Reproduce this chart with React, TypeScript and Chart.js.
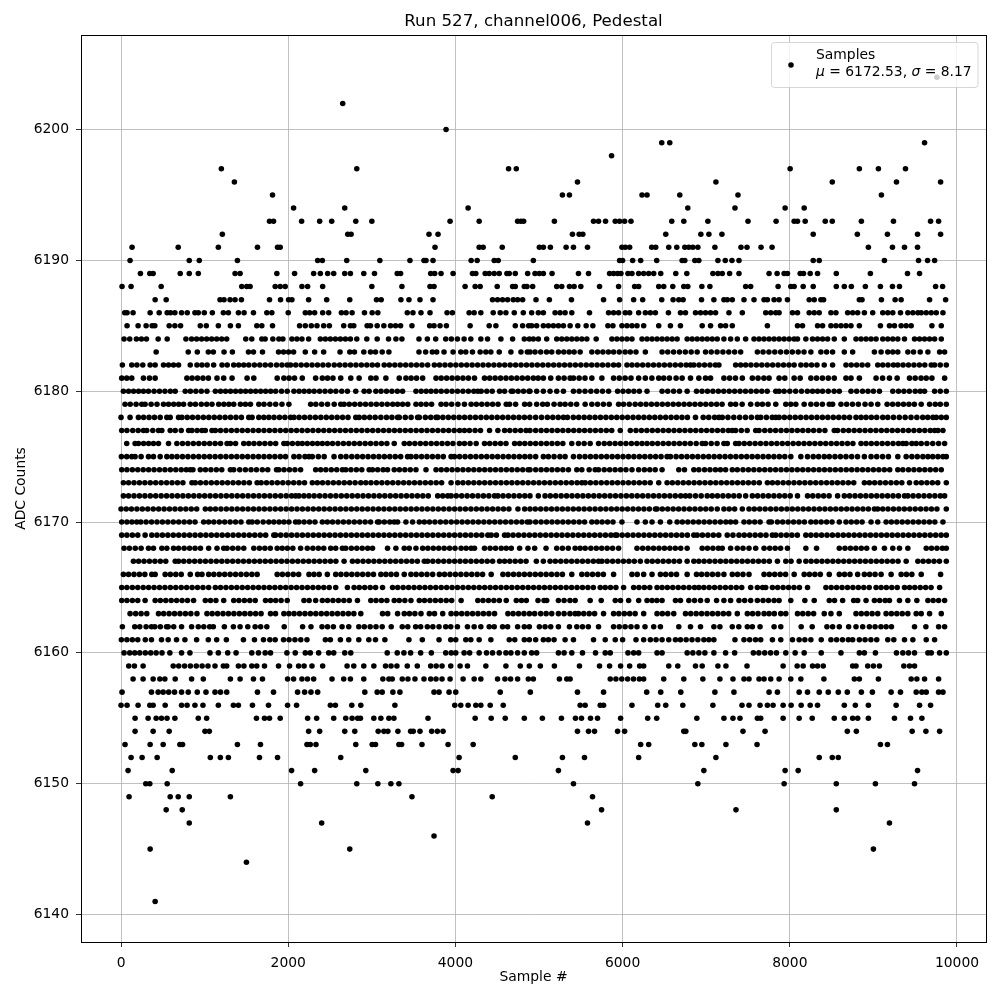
import React, { useEffect, useRef } from "react";
import { Chart, registerables } from "chart.js";

Chart.register(...registerables);

const titleText = "Run 527, channel006, Pedestal";
const xAxisTitle = "Sample #";
const yAxisTitle = "ADC Counts";
const xTickValues = [0, 2000, 4000, 6000, 8000, 10000];
const yTickValues = [6140, 6150, 6160, 6170, 6180, 6190, 6200];

const r6204 = [9760];
const r6202 = [2652];
const r6200 = [3888];
const r6199 = [6468, 6564, 9612];
const r6198 = [5868];
const r6197 = [1200, 2820, 4636, 4728, 8004, 8832, 9060, 9384];
const r6196 = [1356, 5460, 7116, 8508, 9276, 9804];
const r6195 = [1812, 5280, 5364, 6232, 6292, 6684, 7380, 9096];
const r6194 = [2064, 2676, 4152, 6780, 7344, 7944, 8172];
const r6193 = [1776, 1824, 2160, 2376, 2520, 2808, 3000, 3936, 4284, 4744, 4784, 4816, 5184, 5652, 5712, 5796, 5912, 5964, 6024, 6100, 6588, 6732, 7020, 7500, 7836, 8052, 8092, 8184, 8424, 8508, 8856, 9240, 9684, 9780];
const r6192 = [1212, 2712, 2752, 3684, 3792, 5400, 5480, 5524, 6516, 6936, 7032, 7188, 8280, 8808, 9168, 9528, 9804];
const r6191 = [132, 684, 1164, 1632, 1872, 1904, 3756, 4284, 4332, 4560, 5004, 5052, 5136, 5324, 5412, 5580, 5992, 6032, 6084, 6348, 6396, 6552, 6648, 6744, 6792, 6840, 6900, 7104, 7416, 7488, 7656, 7788, 8940, 9228, 9372, 9528];
const r6190 = [108, 816, 936, 1392, 2352, 2408, 2700, 3096, 3456, 3624, 3648, 3732, 4188, 4260, 4464, 4512, 4932, 5964, 6000, 6120, 6216, 6408, 6712, 6744, 6864, 6912, 7140, 7228, 7308, 7392, 8280, 8352, 9132, 9540, 9648, 9732];
const r6189 = [232, 344, 384, 708, 816, 924, 1364, 1424, 1864, 2076, 2304, 2384, 2472, 2544, 2676, 2744, 2904, 3032, 3304, 3344, 3704, 3752, 3828, 3972, 4204, 4244, 4356, 4404, 4464, 4524, 4616, 4644, 4716, 4864, 4952, 5004, 5052, 5156, 5472, 5592, 5844, 5892, 5940, 5980, 6064, 6112, 6192, 6252, 6312, 6372, 6456, 6636, 6768, 7080, 7140, 7192, 7280, 7392, 7752, 7848, 7932, 7972, 8124, 8164, 8244, 8332, 8556, 8964, 9408, 9552];
const r6188 = [12, 120, 480, 1444, 1504, 1544, 1844, 1904, 1964, 2164, 2232, 2412, 3000, 3360, 3696, 3744, 4116, 4236, 4296, 4500, 4684, 4716, 4824, 4856, 4924, 5212, 5272, 5364, 5420, 5500, 5724, 5952, 6144, 6192, 6432, 6492, 6600, 6732, 6780, 6948, 7044, 7472, 7532, 7860, 8012, 8052, 8160, 8280, 8556, 8652, 8736, 8904, 9084, 9228, 9312, 9744, 9828];
const r6187 = [408, 540, 1184, 1232, 1304, 1364, 1440, 1776, 1908, 2004, 2044, 2244, 2460, 2736, 3056, 3112, 3348, 3444, 3576, 3732, 4444, 4504, 4564, 4624, 4692, 4744, 4804, 4964, 5124, 5388, 5772, 5964, 6132, 6240, 6468, 6604, 6672, 6724, 6944, 7092, 7212, 7252, 7312, 7452, 7572, 7692, 7732, 7812, 7872, 7972, 8232, 8292, 8372, 8404, 8832, 8864, 9096, 9260, 9332, 9672, 9864];
const r6186 = [44, 72, 144, 348, 456, 552, 592, 644, 724, 792, 884, 924, 996, 1092, 1224, 1284, 1404, 1472, 1584, 1744, 1804, 2000, 2204, 2256, 2316, 2412, 2484, 2636, 2692, 2764, 2912, 3004, 3072, 3424, 3492, 3588, 3696, 3900, 3964, 4164, 4224, 4304, 4452, 4536, 4604, 4704, 4812, 4912, 4992, 5052, 5192, 5252, 5312, 5392, 5604, 5832, 5892, 5952, 6032, 6084, 6192, 6272, 6332, 6392, 6548, 6692, 6752, 6872, 6932, 6992, 7052, 7112, 7272, 7432, 7712, 7772, 7832, 7872, 8032, 8092, 8232, 8292, 8352, 8492, 8552, 8692, 8752, 8812, 8892, 8992, 9112, 9172, 9232, 9324, 9412, 9472, 9532, 9572, 9632, 9692, 9752, 9832];
const r6185 = [72, 204, 300, 372, 404, 576, 644, 712, 948, 1020, 1164, 1308, 1404, 1624, 1684, 1812, 2136, 2204, 2276, 2344, 2424, 2492, 2664, 2744, 2784, 2944, 2984, 3064, 3144, 3224, 3284, 3344, 3480, 3692, 3744, 3816, 3892, 4176, 4404, 4484, 4716, 4804, 4876, 4912, 4972, 5052, 5112, 5172, 5232, 5292, 5372, 5464, 5564, 5644, 5824, 5884, 5992, 6052, 6112, 6172, 6252, 6432, 6572, 6692, 6952, 7052, 7172, 7232, 7312, 7732, 8092, 8152, 8332, 8392, 8492, 8552, 8612, 8672, 8732, 8832, 9084, 9192, 9252, 9332, 9392, 9452, 9700, 9812];
const r6184 = [36, 104, 184, 244, 304, 444, 552, 776, 844, 904, 964, 1024, 1084, 1144, 1204, 1264, 1492, 1564, 1684, 1724, 1816, 1888, 1936, 2044, 2104, 2164, 2244, 2384, 2444, 2504, 2564, 2624, 2684, 2744, 2820, 2940, 3064, 3200, 3288, 3360, 3564, 3664, 3764, 3884, 3952, 4024, 4104, 4184, 4304, 4384, 4544, 4684, 4824, 4884, 4932, 4992, 5092, 5212, 5272, 5332, 5392, 5452, 5512, 5572, 5684, 5872, 5932, 5992, 6052, 6112, 6232, 6292, 6352, 6412, 6472, 6532, 6592, 6652, 6772, 6832, 6892, 6952, 7012, 7072, 7132, 7212, 7292, 7372, 7472, 7572, 7632, 7692, 7752, 7812, 7872, 7932, 7992, 8052, 8092, 8192, 8272, 8332, 8392, 8452, 8532, 8652, 8792, 8852, 8912, 8972, 9032, 9112, 9172, 9232, 9292, 9372, 9492, 9552, 9612, 9672, 9732, 9812];
const r6183 = [420, 804, 912, 1044, 1104, 1232, 1332, 1524, 1584, 1692, 1884, 1944, 2004, 2064, 2204, 2316, 2424, 2620, 2736, 2792, 2904, 2984, 3044, 3124, 3204, 3564, 3644, 3724, 3776, 3864, 3972, 4064, 4124, 4204, 4296, 4364, 4424, 4524, 4664, 4784, 4860, 4892, 4952, 5020, 5090, 5152, 5232, 5296, 5360, 5420, 5492, 5632, 5700, 5764, 5830, 5892, 5960, 6030, 6092, 6160, 6272, 6472, 6540, 6610, 6680, 6750, 6820, 6892, 6992, 7060, 7130, 7200, 7270, 7340, 7412, 7612, 7680, 7750, 7820, 7890, 7960, 8030, 8100, 8170, 8252, 8372, 8440, 8512, 8652, 8752, 9012, 9092, 9172, 9232, 9292, 9412, 9480, 9560, 9652, 9792, 9852];
const r6182 = [16, 128, 190, 260, 348, 408, 508, 568, 628, 688, 828, 908, 968, 1030, 1108, 1208, 1270, 1348, 1408, 1468, 1528, 1595, 1660, 1725, 1790, 1860, 1925, 1988, 2028, 2090, 2155, 2220, 2285, 2350, 2415, 2480, 2550, 2615, 2680, 2745, 2810, 2875, 2940, 3005, 3068, 3148, 3210, 3275, 3340, 3405, 3470, 3535, 3600, 3668, 3748, 3810, 3875, 3940, 4005, 4070, 4135, 4200, 4265, 4330, 4395, 4460, 4525, 4590, 4655, 4720, 4785, 4850, 4915, 4980, 5045, 5110, 5175, 5240, 5305, 5370, 5435, 5500, 5565, 5630, 5695, 5760, 5825, 5892, 5952, 6052, 6112, 6175, 6240, 6305, 6370, 6435, 6500, 6565, 6630, 6695, 6760, 6812, 6852, 6915, 6980, 7045, 7110, 7152, 7352, 7412, 7472, 7535, 7600, 7665, 7730, 7795, 7860, 7925, 7990, 8052, 8132, 8195, 8260, 8325, 8412, 8512, 8672, 8735, 8800, 8865, 8932, 9052, 9112, 9175, 9240, 9292, 9355, 9420, 9485, 9550, 9615, 9692, 9732, 9800, 9872];
const r6181 = [8, 68, 128, 268, 340, 408, 788, 850, 915, 980, 1045, 1148, 1228, 1328, 1508, 1588, 1868, 1948, 2010, 2075, 2168, 2328, 2408, 2470, 2535, 2628, 2748, 2848, 2988, 3050, 3168, 3328, 3408, 3470, 3535, 3608, 3768, 3830, 3895, 3960, 4025, 4090, 4155, 4228, 4348, 4410, 4475, 4540, 4605, 4670, 4735, 4800, 4865, 4932, 4990, 5052, 5140, 5232, 5300, 5372, 5412, 5480, 5550, 5632, 5752, 5892, 5960, 6030, 6100, 6192, 6272, 6350, 6432, 6492, 6560, 6640, 6712, 6812, 6912, 6992, 7052, 7212, 7280, 7350, 7432, 7552, 7620, 7690, 7752, 7872, 7940, 8052, 8124, 8252, 8320, 8390, 8460, 8532, 8672, 8732, 8832, 9032, 9110, 9192, 9284, 9432, 9500, 9570, 9632, 9700, 9852];
const r6180 = [28, 90, 150, 210, 268, 328, 395, 460, 525, 590, 648, 768, 830, 895, 960, 1028, 1128, 1190, 1250, 1310, 1370, 1430, 1490, 1550, 1610, 1670, 1730, 1790, 1850, 1920, 1988, 2068, 2130, 2190, 2250, 2310, 2375, 2440, 2505, 2570, 2640, 2708, 2808, 2908, 2968, 3048, 3110, 3175, 3240, 3305, 3368, 3528, 3590, 3650, 3708, 3768, 3830, 3895, 3960, 4025, 4090, 4155, 4220, 4268, 4308, 4375, 4440, 4528, 4588, 4668, 4688, 4750, 4815, 4880, 4892, 4972, 5052, 5132, 5212, 5292, 5412, 5480, 5550, 5620, 5690, 5760, 5832, 5940, 6005, 6070, 6135, 6200, 6292, 6472, 6540, 6610, 6680, 6772, 6884, 6950, 7015, 7080, 7145, 7210, 7275, 7340, 7405, 7470, 7535, 7600, 7665, 7730, 7832, 7872, 7932, 8000, 8070, 8140, 8210, 8272, 8332, 8392, 8460, 8530, 8592, 8732, 8800, 8870, 8935, 9000, 9072, 9232, 9300, 9365, 9430, 9500, 9560, 9612, 9732, 9800, 9872];
const r6179 = [48, 110, 180, 248, 288, 360, 430, 508, 568, 630, 690, 748, 828, 890, 960, 1025, 1088, 1168, 1230, 1290, 1348, 1428, 1488, 1548, 1648, 1710, 1780, 1850, 1925, 2008, 2268, 2330, 2400, 2470, 2550, 2628, 2668, 2730, 2795, 2860, 2925, 2990, 3055, 3120, 3185, 3250, 3308, 3368, 3430, 3528, 3588, 3650, 3715, 3828, 3888, 3955, 4030, 4108, 4188, 4250, 4315, 4380, 4445, 4510, 4608, 4648, 4720, 4828, 4888, 4972, 5044, 5100, 5180, 5252, 5312, 5380, 5450, 5552, 5632, 5700, 5770, 5840, 5952, 6012, 6080, 6150, 6215, 6280, 6345, 6410, 6475, 6540, 6605, 6670, 6735, 6800, 6865, 6930, 6995, 7060, 7125, 7190, 7292, 7352, 7430, 7532, 7612, 7672, 7740, 7832, 7952, 8012, 8072, 8172, 8252, 8320, 8390, 8472, 8512, 8612, 8680, 8750, 8820, 8900, 8972, 9052, 9164, 9230, 9295, 9360, 9425, 9490, 9572, 9672, 9740, 9800, 9872];
const r6178 = [0, 108, 208, 270, 335, 400, 468, 548, 588, 688, 728, 792, 855, 920, 985, 1050, 1115, 1180, 1245, 1310, 1375, 1440, 1528, 1568, 1648, 1708, 1768, 1830, 1895, 1960, 2028, 2068, 2130, 2195, 2260, 2325, 2390, 2455, 2520, 2585, 2650, 2715, 2808, 2848, 2910, 2975, 3040, 3108, 3175, 3240, 3308, 3328, 3400, 3470, 3548, 3568, 3640, 3705, 3768, 3788, 3850, 3915, 3980, 4045, 4110, 4175, 4240, 4305, 4370, 4435, 4500, 4565, 4630, 4695, 4760, 4825, 4890, 4960, 5030, 5100, 5165, 5230, 5292, 5340, 5410, 5475, 5540, 5605, 5670, 5735, 5800, 5865, 5930, 5995, 6060, 6125, 6190, 6255, 6320, 6385, 6450, 6515, 6580, 6645, 6710, 6775, 6872, 6964, 7030, 7100, 7152, 7192, 7260, 7330, 7400, 7470, 7540, 7612, 7652, 7720, 7790, 7832, 7872, 7935, 8000, 8065, 8130, 8195, 8260, 8325, 8390, 8455, 8520, 8585, 8650, 8715, 8792, 8852, 8912, 8975, 9040, 9112, 9172, 9240, 9310, 9380, 9450, 9520, 9590, 9650, 9712, 9752, 9812, 9872];
const r6177 = [8, 70, 140, 205, 268, 308, 380, 448, 488, 588, 648, 720, 808, 848, 910, 968, 1008, 1088, 1128, 1190, 1255, 1320, 1385, 1450, 1515, 1580, 1645, 1710, 1775, 1840, 1905, 1970, 2035, 2100, 2165, 2230, 2295, 2360, 2425, 2490, 2555, 2620, 2685, 2750, 2815, 2880, 2945, 3010, 3075, 3140, 3205, 3270, 3335, 3400, 3465, 3530, 3595, 3660, 3725, 3790, 3855, 3920, 3985, 4050, 4108, 4168, 4235, 4300, 4408, 4508, 4588, 4650, 4715, 4780, 4845, 4892, 4960, 5025, 5090, 5155, 5220, 5285, 5350, 5415, 5480, 5545, 5610, 5675, 5740, 5805, 5870, 5972, 6092, 6160, 6225, 6290, 6355, 6420, 6485, 6550, 6615, 6680, 6745, 6810, 6875, 6940, 7005, 7070, 7135, 7200, 7265, 7312, 7352, 7420, 7490, 7592, 7632, 7700, 7765, 7830, 7895, 7960, 8025, 8090, 8155, 8220, 8285, 8352, 8420, 8532, 8572, 8640, 8705, 8770, 8835, 8900, 8965, 9030, 9095, 9160, 9225, 9290, 9355, 9420, 9485, 9550, 9615, 9680, 9732, 9772, 9832];
const r6176 = [68, 168, 208, 270, 330, 388, 448, 568, 668, 735, 800, 865, 930, 995, 1060, 1125, 1190, 1268, 1308, 1370, 1468, 1528, 1590, 1655, 1720, 1785, 1850, 1948, 1988, 2050, 2115, 2168, 2228, 2290, 2350, 2408, 2468, 2530, 2595, 2660, 2725, 2790, 2855, 2920, 2985, 3050, 3115, 3180, 3268, 3388, 3450, 3515, 3580, 3645, 3710, 3775, 3840, 3905, 3970, 4048, 4108, 4175, 4248, 4348, 4410, 4475, 4540, 4605, 4708, 4768, 4830, 4895, 4960, 5025, 5090, 5155, 5220, 5285, 5392, 5472, 5540, 5612, 5712, 5780, 5845, 5910, 5975, 6040, 6105, 6170, 6232, 6292, 6355, 6420, 6485, 6550, 6615, 6680, 6745, 6810, 6880, 6952, 6992, 7060, 7130, 7212, 7252, 7352, 7392, 7455, 7520, 7585, 7650, 7715, 7780, 7845, 7910, 7975, 8040, 8105, 8170, 8235, 8300, 8365, 8430, 8495, 8560, 8625, 8690, 8755, 8852, 8912, 8975, 9040, 9105, 9170, 9235, 9300, 9352, 9392, 9460, 9512, 9572, 9640, 9710, 9780, 9852];
const r6175 = [4, 68, 128, 168, 240, 328, 388, 468, 548, 608, 670, 735, 800, 865, 930, 995, 1060, 1125, 1190, 1255, 1320, 1385, 1450, 1515, 1580, 1645, 1710, 1775, 1840, 1905, 1968, 2068, 2130, 2200, 2248, 2288, 2360, 2430, 2548, 2628, 2692, 2760, 2825, 2890, 2955, 3020, 3085, 3150, 3215, 3280, 3345, 3428, 3468, 3530, 3595, 3660, 3725, 3790, 3855, 3948, 3988, 4050, 4115, 4180, 4245, 4310, 4375, 4440, 4505, 4570, 4635, 4700, 4765, 4830, 4892, 4960, 5052, 5112, 5180, 5250, 5312, 5412, 5484, 5550, 5615, 5680, 5745, 5810, 5875, 5940, 6005, 6070, 6135, 6200, 6265, 6330, 6395, 6460, 6532, 6572, 6640, 6705, 6770, 6835, 6900, 6965, 7030, 7095, 7160, 7225, 7290, 7355, 7420, 7485, 7550, 7615, 7680, 7745, 7810, 7875, 7940, 8012, 8132, 8212, 8280, 8345, 8412, 8472, 8540, 8605, 8672, 8740, 8810, 8892, 8972, 9040, 9110, 9180, 9292, 9392, 9460, 9525, 9592, 9652, 9710, 9772, 9832, 9872];
const r6174 = [8, 70, 135, 200, 265, 330, 395, 460, 525, 590, 655, 720, 780, 828, 860, 948, 1010, 1075, 1140, 1205, 1308, 1348, 1420, 1488, 1555, 1620, 1690, 1755, 1860, 1888, 1950, 2015, 2080, 2148, 2328, 2388, 2450, 2515, 2580, 2648, 2688, 2750, 2815, 2880, 2968, 3008, 3070, 3135, 3188, 3268, 3330, 3395, 3460, 3528, 3648, 3768, 3830, 3895, 3960, 4025, 4090, 4155, 4220, 4285, 4350, 4415, 4480, 4545, 4610, 4675, 4740, 4805, 4870, 4892, 4960, 5025, 5090, 5155, 5220, 5285, 5352, 5452, 5512, 5600, 5672, 5712, 5780, 5845, 5910, 5975, 6040, 6112, 6192, 6260, 6325, 6390, 6472, 6672, 6740, 6852, 6912, 6980, 7045, 7110, 7170, 7232, 7312, 7372, 7440, 7505, 7570, 7635, 7700, 7765, 7830, 7895, 7960, 8025, 8090, 8155, 8220, 8285, 8350, 8415, 8480, 8545, 8610, 8675, 8740, 8805, 8870, 8935, 9000, 9065, 9130, 9195, 9292, 9352, 9420, 9485, 9550, 9615, 9680, 9745, 9812];
const r6173 = [28, 90, 155, 220, 285, 350, 415, 480, 545, 610, 675, 740, 848, 888, 950, 1015, 1080, 1145, 1210, 1275, 1340, 1405, 1470, 1535, 1628, 1676, 1740, 1805, 1870, 1935, 2000, 2065, 2130, 2195, 2288, 2348, 2410, 2475, 2540, 2605, 2670, 2735, 2800, 2868, 2928, 2990, 3055, 3120, 3185, 3250, 3315, 3380, 3445, 3510, 3575, 3640, 3705, 3770, 3835, 3948, 4028, 4090, 4155, 4220, 4285, 4350, 4415, 4480, 4545, 4610, 4675, 4740, 4805, 4870, 4935, 5000, 5065, 5130, 5195, 5260, 5325, 5390, 5455, 5512, 5552, 5615, 5680, 5745, 5810, 5875, 5940, 6005, 6070, 6135, 6200, 6265, 6330, 6432, 6532, 6595, 6660, 6725, 6790, 6855, 6920, 6985, 7050, 7115, 7180, 7245, 7310, 7375, 7440, 7505, 7570, 7635, 7732, 7792, 7855, 7920, 7985, 8050, 8115, 8180, 8245, 8310, 8375, 8440, 8505, 8570, 8635, 8700, 8765, 8892, 8952, 9015, 9080, 9145, 9210, 9275, 9340, 9432, 9512, 9575, 9640, 9705, 9770, 9872];
const r6172 = [28, 90, 155, 220, 285, 350, 415, 480, 545, 610, 675, 740, 805, 870, 935, 1000, 1065, 1130, 1195, 1260, 1325, 1390, 1455, 1520, 1585, 1650, 1715, 1780, 1845, 1910, 1975, 2040, 2088, 2128, 2188, 2248, 2310, 2375, 2440, 2505, 2570, 2635, 2700, 2765, 2830, 2895, 2960, 3025, 3090, 3155, 3220, 3285, 3350, 3415, 3480, 3545, 3610, 3675, 3788, 3848, 3908, 3948, 4010, 4075, 4140, 4205, 4270, 4335, 4400, 4468, 4508, 4570, 4635, 4700, 4765, 4830, 4892, 4992, 5072, 5135, 5200, 5265, 5330, 5395, 5460, 5525, 5590, 5655, 5720, 5785, 5850, 5915, 5980, 6045, 6110, 6175, 6240, 6305, 6370, 6435, 6500, 6565, 6630, 6695, 6752, 6804, 6872, 6940, 7012, 7072, 7135, 7200, 7265, 7330, 7395, 7472, 7552, 7615, 7680, 7745, 7810, 7875, 7940, 8005, 8092, 8212, 8275, 8340, 8405, 8470, 8572, 8652, 8715, 8780, 8845, 8910, 8975, 9040, 9105, 9170, 9235, 9300, 9372, 9412, 9475, 9540, 9605, 9670, 9735, 9800, 9852];
const r6171 = [0, 62, 125, 190, 255, 320, 385, 450, 515, 580, 645, 710, 775, 840, 905, 1008, 1068, 1130, 1195, 1260, 1325, 1390, 1455, 1520, 1585, 1650, 1715, 1780, 1845, 1910, 1975, 2040, 2105, 2170, 2235, 2300, 2365, 2430, 2495, 2560, 2625, 2690, 2755, 2820, 2885, 2950, 3015, 3080, 3145, 3210, 3275, 3340, 3405, 3470, 3535, 3600, 3665, 3730, 3795, 3860, 3925, 3990, 4055, 4120, 4185, 4250, 4315, 4380, 4445, 4510, 4575, 4640, 4748, 4828, 4892, 4955, 5020, 5085, 5150, 5215, 5280, 5345, 5410, 5475, 5540, 5605, 5670, 5735, 5800, 5865, 5930, 5995, 6060, 6125, 6190, 6255, 6320, 6392, 6412, 6475, 6540, 6605, 6670, 6735, 6800, 6865, 6930, 6995, 7060, 7132, 7212, 7275, 7340, 7432, 7512, 7575, 7640, 7705, 7770, 7835, 7900, 7965, 8030, 8095, 8160, 8225, 8290, 8355, 8420, 8485, 8550, 8615, 8680, 8745, 8810, 8875, 8940, 9012, 9052, 9112, 9175, 9240, 9305, 9370, 9435, 9500, 9565, 9630, 9695, 9760, 9872];
const r6170 = [8, 70, 130, 188, 236, 300, 365, 430, 495, 560, 625, 690, 755, 820, 885, 988, 1048, 1110, 1175, 1240, 1305, 1370, 1435, 1528, 1568, 1630, 1700, 1768, 1828, 1890, 1948, 2008, 2088, 2128, 2190, 2255, 2320, 2408, 2468, 2530, 2595, 2660, 2725, 2790, 2855, 2920, 2985, 3068, 3088, 3150, 3215, 3268, 3308, 3408, 3488, 3568, 3628, 3690, 3755, 3820, 3885, 3950, 4015, 4080, 4145, 4210, 4275, 4340, 4405, 4470, 4535, 4600, 4665, 4730, 4795, 4860, 4892, 4960, 5025, 5090, 5155, 5220, 5285, 5350, 5415, 5480, 5545, 5632, 5692, 5755, 5820, 5885, 5992, 6172, 6272, 6352, 6452, 6564, 6652, 6715, 6780, 6845, 6910, 6975, 7040, 7105, 7170, 7235, 7292, 7352, 7452, 7515, 7580, 7645, 7752, 7780, 7852, 7915, 7980, 8045, 8110, 8175, 8252, 8312, 8375, 8440, 8505, 8592, 8672, 8735, 8800, 8865, 8972, 9052, 9152, 9215, 9280, 9345, 9410, 9475, 9540, 9605, 9670, 9735, 9832];
const r6169 = [8, 70, 135, 200, 288, 368, 430, 495, 560, 625, 690, 755, 820, 885, 950, 1015, 1080, 1145, 1210, 1275, 1340, 1405, 1470, 1535, 1600, 1665, 1730, 1828, 1848, 1910, 1975, 2040, 2105, 2170, 2235, 2300, 2365, 2430, 2495, 2560, 2625, 2690, 2755, 2820, 2885, 2950, 3015, 3080, 3145, 3210, 3275, 3340, 3405, 3470, 3535, 3600, 3665, 3730, 3795, 3860, 3925, 3990, 4055, 4120, 4185, 4250, 4315, 4388, 4428, 4490, 4588, 4628, 4690, 4755, 4820, 4885, 4950, 5015, 5080, 5145, 5210, 5275, 5340, 5405, 5470, 5535, 5600, 5665, 5730, 5795, 5860, 5912, 5932, 5995, 6060, 6125, 6190, 6255, 6320, 6385, 6450, 6515, 6580, 6645, 6710, 6775, 6852, 6892, 6955, 7020, 7085, 7150, 7252, 7320, 7392, 7455, 7520, 7585, 7650, 7715, 7792, 7832, 7895, 7960, 8025, 8090, 8192, 8252, 8315, 8380, 8445, 8510, 8575, 8640, 8705, 8770, 8835, 8900, 8965, 9030, 9095, 9160, 9225, 9290, 9355, 9420, 9485, 9550, 9615, 9680, 9745, 9810, 9872];
const r6168 = [36, 100, 170, 240, 328, 388, 488, 548, 628, 688, 755, 820, 885, 950, 1048, 1148, 1228, 1268, 1335, 1400, 1468, 1588, 1655, 1720, 1785, 1868, 1928, 1990, 2055, 2148, 2228, 2295, 2360, 2425, 2508, 2568, 2648, 2688, 2755, 2820, 2885, 2950, 3008, 3188, 3288, 3388, 3448, 3528, 3608, 3670, 3735, 3800, 3865, 3930, 3995, 4068, 4128, 4188, 4228, 4348, 4415, 4480, 4548, 4608, 4668, 4768, 4868, 4948, 5084, 5212, 5280, 5350, 5432, 5492, 5552, 5620, 5685, 5750, 5815, 5880, 5952, 6172, 6240, 6305, 6370, 6435, 6500, 6565, 6630, 6695, 6772, 6952, 7015, 7080, 7145, 7192, 7292, 7372, 7440, 7512, 7592, 7692, 7760, 7825, 7890, 7972, 8192, 8320, 8592, 8660, 8725, 8790, 8855, 8920, 9012, 9132, 9232, 9312, 9412, 9632, 9695, 9760, 9825, 9872];
const r6167 = [148, 210, 275, 340, 405, 470, 535, 648, 688, 750, 815, 880, 945, 1010, 1075, 1140, 1205, 1270, 1335, 1400, 1465, 1530, 1595, 1660, 1725, 1790, 1855, 1920, 1985, 2050, 2115, 2180, 2245, 2310, 2375, 2440, 2505, 2570, 2668, 2768, 2830, 2895, 2960, 3025, 3090, 3155, 3220, 3285, 3350, 3415, 3480, 3545, 3628, 3668, 3730, 3795, 3860, 3925, 3990, 4055, 4120, 4185, 4250, 4315, 4380, 4445, 4528, 4588, 4650, 4715, 4780, 4845, 4968, 5052, 5132, 5195, 5260, 5325, 5390, 5455, 5520, 5585, 5650, 5712, 5752, 5815, 5880, 5945, 6010, 6075, 6140, 6212, 6292, 6355, 6420, 6485, 6550, 6615, 6680, 6772, 6852, 6912, 6975, 7040, 7105, 7170, 7235, 7300, 7365, 7430, 7495, 7560, 7625, 7690, 7755, 7852, 7952, 8015, 8112, 8192, 8255, 8320, 8385, 8450, 8515, 8580, 8645, 8710, 8775, 8840, 8905, 8970, 9035, 9100, 9165, 9230, 9295, 9392, 9532, 9595, 9660, 9725, 9790, 9872];
const r6166 = [28, 90, 155, 220, 285, 368, 408, 528, 590, 655, 720, 828, 916, 968, 1048, 1110, 1175, 1240, 1305, 1370, 1435, 1500, 1565, 1628, 1868, 1930, 1995, 2060, 2125, 2248, 2308, 2370, 2468, 2568, 2630, 2695, 2760, 2825, 2890, 2955, 3020, 3108, 3168, 3230, 3295, 3388, 3468, 3530, 3595, 3660, 3728, 3808, 3870, 3935, 4000, 4065, 4130, 4195, 4260, 4325, 4428, 4568, 4630, 4695, 4760, 4825, 4890, 4955, 5020, 5085, 5150, 5215, 5280, 5392, 5512, 5575, 5640, 5705, 5770, 5892, 6112, 6175, 6252, 6352, 6452, 6515, 6580, 6645, 6772, 6884, 6945, 7010, 7075, 7140, 7212, 7312, 7375, 7440, 7512, 7692, 7755, 7820, 7885, 7950, 8052, 8172, 8235, 8300, 8365, 8472, 8592, 8655, 8720, 8812, 8892, 8955, 9020, 9092, 9212, 9332, 9395, 9460, 9572, 9804];
const r6165 = [8, 70, 135, 200, 265, 330, 395, 460, 525, 590, 655, 720, 785, 850, 915, 980, 1048, 1128, 1190, 1255, 1320, 1385, 1450, 1515, 1580, 1645, 1710, 1775, 1840, 1905, 1970, 2035, 2100, 2165, 2230, 2295, 2360, 2425, 2490, 2568, 2708, 2788, 2850, 2915, 2980, 3045, 3128, 3248, 3310, 3375, 3440, 3505, 3570, 3635, 3700, 3765, 3830, 3895, 3960, 4025, 4090, 4155, 4220, 4285, 4350, 4415, 4480, 4545, 4610, 4675, 4740, 4805, 4870, 4935, 5000, 5065, 5130, 5195, 5260, 5325, 5390, 5455, 5520, 5585, 5650, 5732, 5792, 5855, 5920, 6012, 6132, 6195, 6260, 6325, 6412, 6472, 6535, 6600, 6665, 6730, 6795, 6860, 6912, 6972, 7035, 7100, 7165, 7230, 7295, 7360, 7425, 7532, 7612, 7675, 7712, 7792, 7855, 7920, 7985, 8050, 8115, 8212, 8432, 8495, 8560, 8625, 8690, 8755, 8820, 8885, 8950, 9032, 9092, 9155, 9220, 9285, 9372, 9432, 9495, 9560, 9625, 9690, 9792];
const r6164 = [8, 70, 135, 200, 288, 408, 470, 535, 600, 665, 730, 795, 868, 1008, 1070, 1135, 1228, 1348, 1410, 1475, 1540, 1605, 1728, 1788, 1850, 1915, 1988, 2188, 2250, 2328, 2408, 2470, 2535, 2600, 2665, 2730, 2828, 2988, 3050, 3115, 3180, 3268, 3328, 3395, 3468, 3568, 3630, 3695, 3760, 3825, 3890, 3955, 4068, 4268, 4330, 4395, 4460, 4525, 4608, 4728, 4790, 4848, 4988, 5060, 5092, 5232, 5300, 5370, 5432, 5612, 5744, 5912, 5975, 6072, 6192, 6292, 6352, 6410, 6472, 6632, 6692, 6792, 6860, 6932, 7012, 7124, 7212, 7292, 7392, 7460, 7532, 7612, 7680, 7745, 7812, 7872, 8012, 8180, 8292, 8472, 8535, 8632, 8764, 8812, 8912, 9012, 9075, 9140, 9192, 9312, 9412, 9520, 9652, 9715, 9780, 9852];
const r6163 = [108, 175, 240, 308, 448, 510, 575, 640, 705, 770, 835, 908, 1028, 1090, 1155, 1220, 1285, 1350, 1415, 1480, 1545, 1610, 1675, 1788, 1848, 1948, 2008, 2070, 2135, 2200, 2265, 2330, 2395, 2460, 2525, 2590, 2655, 2720, 2785, 2868, 3128, 3190, 3308, 3388, 3450, 3515, 3588, 3688, 3750, 3848, 3948, 4010, 4075, 4140, 4205, 4270, 4335, 4400, 4468, 4628, 4690, 4755, 4820, 4885, 4948, 5020, 5085, 5152, 5232, 5300, 5370, 5432, 5472, 5535, 5600, 5665, 5772, 5892, 5955, 6020, 6085, 6150, 6252, 6412, 6475, 6540, 6612, 6752, 6815, 6880, 6945, 7010, 7075, 7140, 7205, 7270, 7372, 7492, 7555, 7620, 7692, 7752, 7815, 7892, 7952, 8092, 8155, 8220, 8285, 8412, 8492, 8592, 8792, 8855, 8920, 8985, 9052, 9152, 9215, 9280, 9345, 9412, 9512, 9572, 9672, 9812];
const r6162 = [16, 164, 224, 300, 364, 404, 470, 544, 564, 630, 724, 844, 924, 990, 1060, 1104, 1236, 1344, 1424, 1516, 1604, 1670, 1744, 1952, 2172, 2272, 2404, 2470, 2540, 2644, 2724, 2844, 2910, 2980, 3050, 3124, 3232, 3364, 3430, 3524, 3584, 3664, 3730, 3804, 3884, 3944, 4024, 4144, 4224, 4304, 4404, 4464, 4564, 4624, 4744, 4824, 4884, 5004, 5072, 5140, 5232, 5364, 5452, 5520, 5590, 5712, 5892, 5960, 6030, 6100, 6172, 6268, 6372, 6452, 6672, 6812, 6932, 7092, 7164, 7312, 7390, 7492, 7552, 7644, 7812, 7892, 8136, 8268, 8444, 8512, 8592, 8704, 8792, 8872, 8952, 9020, 9090, 9152, 9216, 9492, 9628, 9780, 9852];
const r6161 = [4, 70, 135, 200, 290, 364, 484, 564, 664, 764, 904, 1044, 1144, 1260, 1464, 1596, 1704, 1780, 1844, 1944, 2010, 2080, 2150, 2224, 2444, 2504, 2624, 2724, 2844, 2964, 3044, 3156, 3444, 3604, 3804, 3944, 4004, 4124, 4184, 4284, 4424, 4644, 4710, 4824, 4884, 4960, 5052, 5112, 5180, 5312, 5412, 5652, 5792, 5912, 6000, 6160, 6252, 6332, 6400, 6472, 6552, 6632, 6692, 6760, 6830, 6900, 6972, 7032, 7092, 7344, 7452, 7520, 7590, 7652, 7792, 7892, 8032, 8112, 8180, 8252, 8376, 8492, 8560, 8630, 8700, 8752, 8832, 8900, 8970, 9040, 9172, 9244, 9372, 9472, 9632, 9732];
const r6160 = [36, 104, 164, 224, 290, 355, 420, 490, 584, 724, 824, 1064, 1164, 1276, 1376, 1564, 1644, 1724, 1788, 1984, 2084, 2204, 2264, 2364, 2484, 2544, 2676, 2748, 3184, 3304, 3384, 3464, 3584, 3712, 3884, 3950, 4004, 4104, 4170, 4284, 4372, 4444, 4524, 4604, 4664, 4744, 4824, 4912, 4972, 5232, 5300, 5392, 5520, 5676, 5792, 5852, 6064, 6132, 6192, 6412, 6472, 6772, 6840, 6912, 6984, 7092, 7232, 7340, 7564, 7630, 7700, 7770, 7840, 7952, 8064, 8172, 8376, 8612, 8832, 8892, 9024, 9276, 9352, 9420, 9492, 9652, 9692, 9792, 9872];
const r6159 = [92, 160, 264, 624, 690, 760, 830, 900, 970, 1040, 1124, 1224, 1264, 1404, 1470, 1564, 1624, 1716, 1884, 2016, 2124, 2190, 2284, 2412, 2704, 2784, 2904, 3024, 3164, 3230, 3300, 3424, 3544, 3704, 3770, 3840, 3944, 4056, 4144, 4364, 4604, 4776, 4884, 5016, 5184, 5484, 5724, 5844, 5976, 6084, 6204, 6252, 6552, 6660, 6872, 6952, 7140, 7236, 7488, 7920, 8088, 8160, 8272, 8332, 8400, 8752, 8792, 8932, 9000, 9072, 9364, 9432, 9492];
const r6158 = [144, 264, 384, 464, 524, 648, 844, 984, 1308, 1424, 1584, 1692, 1992, 2064, 2164, 2230, 2304, 2524, 2664, 2744, 2904, 3132, 3204, 3244, 3364, 3432, 3516, 3624, 3704, 3768, 3840, 3936, 4092, 4224, 4304, 4504, 4592, 4660, 4744, 4872, 4932, 5244, 5332, 5372, 5852, 5920, 5990, 6060, 6130, 6200, 6252, 6492, 6732, 6960, 7164, 7320, 7452, 7512, 7632, 7692, 7772, 7872, 8012, 8132, 8408, 8772, 8832, 9060, 9452, 9520, 9612, 9780];
const r6157 = [12, 364, 444, 504, 570, 640, 724, 804, 912, 1016, 1124, 1190, 1264, 1632, 1824, 2112, 2196, 2272, 2352, 2916, 3064, 3124, 3252, 3336, 3744, 3804, 3924, 4004, 4536, 4896, 5460, 5772, 6288, 6456, 6696, 7104, 7332, 7752, 7852, 8112, 8212, 8352, 8460, 8580, 8688, 8856, 8988, 9212, 9324, 9512, 9580, 9632, 9780, 9832];
const r6156 = [0, 72, 204, 344, 384, 528, 724, 790, 884, 980, 1164, 1344, 1404, 1572, 1764, 1992, 2100, 2504, 2564, 2760, 2868, 3276, 3992, 4064, 4152, 4244, 4304, 4416, 4572, 5492, 5552, 5732, 5772, 6112, 6420, 6516, 6720, 7080, 7428, 7512, 7644, 7732, 7800, 7920, 8016, 8136, 8244, 8332, 8652, 8784, 8940, 9272, 9552, 9684];
const r6155 = [168, 324, 420, 484, 550, 644, 924, 1024, 1620, 1716, 1776, 1904, 2232, 2340, 2544, 2688, 2764, 2830, 2864, 3024, 3108, 3204, 3264, 3672, 4236, 4428, 4596, 4824, 5040, 5268, 5436, 5508, 5616, 5700, 5976, 6300, 6408, 6888, 7212, 7320, 7404, 7612, 7652, 7920, 8112, 8268, 8532, 8652, 8752, 8812, 8940, 9252, 9444, 9580];
const r6154 = [168, 384, 576, 1004, 1056, 2244, 2376, 2676, 2796, 3076, 3144, 3192, 3312, 3464, 3496, 3576, 3716, 3784, 3852, 5460, 5592, 5664, 5940, 6024, 6732, 6756, 7440, 7704, 8688, 8796, 9464, 9628, 9792];
const r6153 = [48, 348, 504, 704, 736, 1392, 1668, 2224, 2264, 2332, 2808, 3004, 3044, 3324, 3356, 3600, 3912, 4212, 6216, 6312, 6864, 6948, 7236, 7608, 9084, 9168];
const r6152 = [120, 252, 432, 1068, 1188, 1284, 1656, 1872, 2628, 4044, 4716, 5280, 5544, 6192, 7116, 8352, 8508, 8580];
const r6151 = [84, 612, 2040, 2316, 2928, 3972, 4032, 5232, 6972, 7944, 8100, 9528];
const r6150 = [296, 344, 552, 2148, 2820, 3072, 3228, 3324, 5412, 6900, 7932, 8556, 9024, 9492];
const r6149 = [96, 588, 684, 816, 1308, 3480, 4440, 5640];
const r6148 = [540, 732, 5748, 7356, 8556];
const r6147 = [816, 2400, 5580, 9192];
const r6146 = [3744];
const r6145 = [348, 2736, 9000];
const r6144 = [1500];
const r6141 = [408];

const rows: [number, number[]][] = [
  [6204, r6204], [6202, r6202], [6200, r6200], [6199, r6199], [6198, r6198], [6197, r6197], [6196, r6196], [6195, r6195],
  [6194, r6194], [6193, r6193], [6192, r6192], [6191, r6191], [6190, r6190], [6189, r6189], [6188, r6188], [6187, r6187],
  [6186, r6186], [6185, r6185], [6184, r6184], [6183, r6183], [6182, r6182], [6181, r6181], [6180, r6180], [6179, r6179],
  [6178, r6178], [6177, r6177], [6176, r6176], [6175, r6175], [6174, r6174], [6173, r6173], [6172, r6172], [6171, r6171],
  [6170, r6170], [6169, r6169], [6168, r6168], [6167, r6167], [6166, r6166], [6165, r6165], [6164, r6164], [6163, r6163],
  [6162, r6162], [6161, r6161], [6160, r6160], [6159, r6159], [6158, r6158], [6157, r6157], [6156, r6156], [6155, r6155],
  [6154, r6154], [6153, r6153], [6152, r6152], [6151, r6151], [6150, r6150], [6149, r6149], [6148, r6148], [6147, r6147],
  [6146, r6146], [6145, r6145], [6144, r6144], [6141, r6141],
];

const FONT = "'DejaVu Sans'";

const framePlugin = {
  id: "frameAndLegend",
  afterDatasetsDraw(chart: any) {
    const { ctx, chartArea: a } = chart;
    ctx.save();
    ctx.strokeStyle = "#000";
    ctx.lineWidth = 1;
    ctx.strokeRect(a.left + 0.5, a.top + 0.5, a.right - a.left, a.bottom - a.top);

    const bx = 771.5, by = 42.5, bw = 206.5, bh = 45, r = 3;
    ctx.beginPath();
    ctx.roundRect(bx, by, bw, bh, r);
    ctx.fillStyle = "rgba(255,255,255,0.8)";
    ctx.fill();
    ctx.strokeStyle = "rgba(204,204,204,0.8)";
    ctx.lineWidth = 1;
    ctx.stroke();

    ctx.beginPath();
    ctx.arc(791, 65, 2.78, 0, Math.PI * 2);
    ctx.fillStyle = "#000";
    ctx.fill();

    ctx.fillStyle = "#000";
    ctx.textBaseline = "alphabetic";
    ctx.textAlign = "left";
    const regular = `13.89px ${FONT}`;
    const italic = `italic 13.89px ${FONT}`;
    ctx.font = regular;
    ctx.fillText("Samples", 816, 59);
    let x = 816;
    const y = 76;
    const pieces: [string, string][] = [["\u03bc", italic], [" = 6172.53, ", regular], ["\u03c3", italic], [" = 8.17", regular]];
    for (const [text, font] of pieces) {
      ctx.font = font;
      ctx.fillText(text, x, y);
      x += ctx.measureText(text).width;
    }
    ctx.restore();
  },
};

export default function App() {
  const ref = useRef<HTMLCanvasElement>(null);
  useEffect(() => {
    const tickFont = { family: FONT, size: 13.89 };
    const chart = new Chart(ref.current!, {
      type: "scatter",
      data: {
        datasets: [{
          data: rows.flatMap(([y, xs]) => xs.map((x) => ({ x, y }))),
          pointRadius: 2.78,
          pointBorderWidth: 0,
          backgroundColor: "#000",
        }],
      },
      plugins: [framePlugin],
      options: {
        animation: false,
        responsive: false,
        layout: { padding: { left: 0, right: 14, top: 0, bottom: 0 } },
        scales: {
          x: {
            type: "linear",
            min: -479,
            max: 10347,
            afterBuildTicks: (s: any) => { s.ticks = xTickValues.map((value) => ({ value })); },
            afterFit: (s: any) => { s.height = 58; },
            grid: { color: "#b0b0b0", lineWidth: 0.8, tickColor: "#000", tickLength: 5 },
            border: { display: false },
            ticks: { color: "#000", font: tickFont, maxRotation: 0, padding: 8, callback: (v: any) => String(v) },
            title: { display: true, text: xAxisTitle, color: "#000", font: tickFont, padding: { top: 1, bottom: 14 } },
          },
          y: {
            type: "linear",
            min: 6137.9,
            max: 6207.23,
            afterBuildTicks: (s: any) => { s.ticks = yTickValues.map((value) => ({ value })); },
            afterFit: (s: any) => { s.width = 81; },
            grid: { color: "#b0b0b0", lineWidth: 0.8, tickColor: "#000", tickLength: 5 },
            border: { display: false },
            ticks: { color: "#000", font: tickFont, padding: 7, callback: (v: any) => String(v) },
            title: { display: true, text: yAxisTitle, color: "#000", font: tickFont, padding: { top: 13, bottom: 4 } },
          },
        },
        plugins: {
          legend: { display: false },
          tooltip: { enabled: false },
          title: {
            display: true,
            fullSize: false,
            text: titleText,
            color: "#000",
            font: { family: FONT, size: 16.67, weight: "normal" },
            padding: { top: 12, bottom: 3 },
          },
        },
      },
    });
    return () => chart.destroy();
  }, []);
  return (
    <div style={{ position: "absolute", left: 0, top: 0, width: 1000, height: 1000 }}>
      <canvas ref={ref} width={1000} height={1000} style={{ display: "block" }} />
    </div>
  );
}
